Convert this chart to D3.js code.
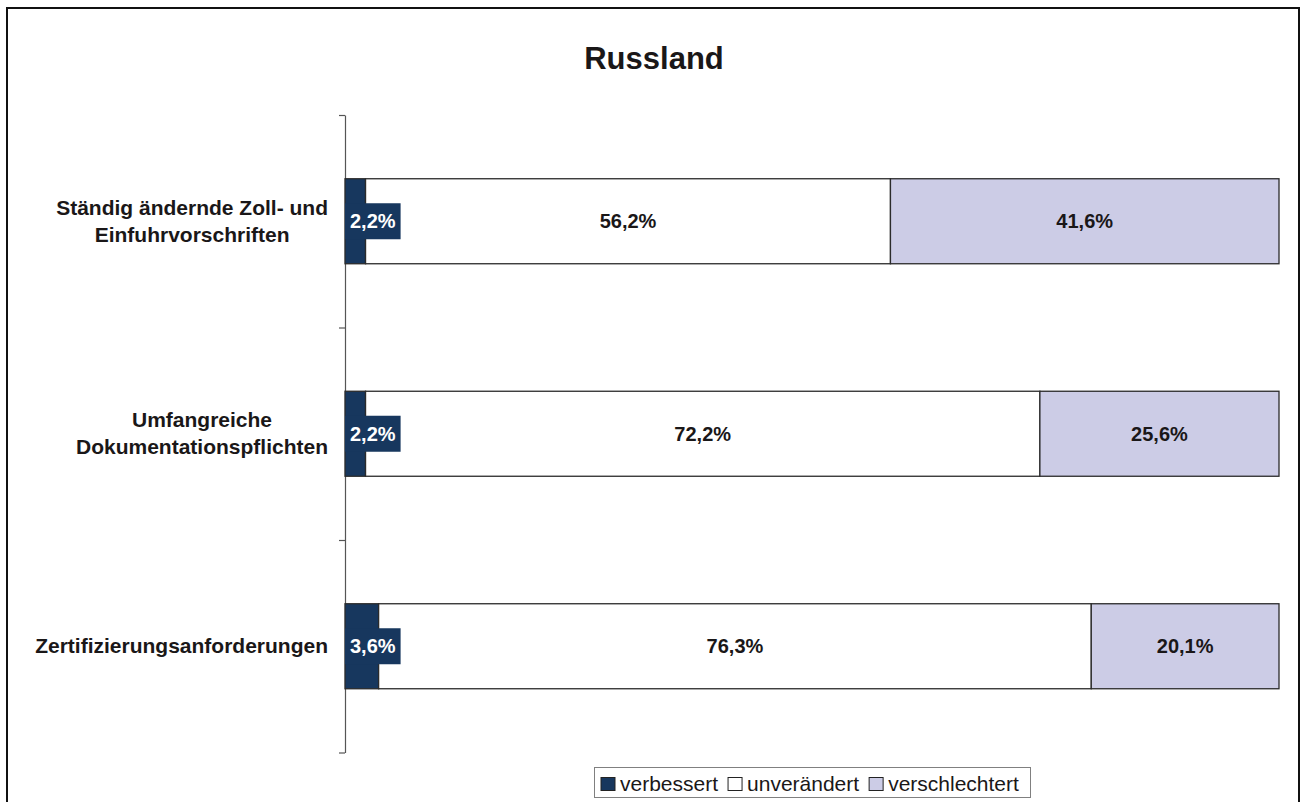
<!DOCTYPE html>
<html>
<head>
<meta charset="utf-8">
<script src="https://cdn.jsdelivr.net/npm/d3@7"></script>
<style>
  body { margin: 0; background: #fff; }
  svg { display: block; font-family: "Liberation Sans", Arial, sans-serif; }
</style>
</head>
<body>
<svg id="chart" width="1304" height="802"></svg>
<script>
// DATA
const categories = [
    ['Ständig ändernde Zoll- und', 'Einfuhrvorschriften'],
    ['Umfangreiche', 'Dokumentationspflichten'],
    ['Zertifizierungsanforderungen']
]
const seriesNames = ['verbessert', 'unverändert', 'verschlechtert']
const verbessert = [2.2, 2.2, 3.6]
const unveraendert = [56.2, 72.2, 76.3]
const verschlechtert = [41.6, 25.6, 20.1]
const colors = ['#17375e', '#ffffff', '#ccccE6']

const rows = categories.map((c, i) => ({
    key: i,
    label: c,
    values: [verbessert[i], unveraendert[i], verschlechtert[i]]
}))

// SVG, SCALES
const svg = d3.select('#chart')
const plot = { left: 345, right: 1279, top: 115, bottom: 752.5 }

// outer frame (bottom edge runs off the picture)
svg.append('rect')
    .attr('x', 7).attr('y', 8)
    .attr('width', 1292).attr('height', 820)
    .attr('fill', 'none')
    .attr('stroke', '#111')
    .attr('stroke-width', 2)

svg.append('text')
    .attr('x', 654).attr('y', 69)
    .attr('text-anchor', 'middle')
    .attr('font-size', 31).attr('font-weight', 'bold')
    .attr('fill', '#1a1718')
    .text('Russland')

const x = d3.scaleLinear().domain([0, 100]).range([plot.left, plot.right])
const y = d3.scaleBand()
    .domain(rows.map(d => d.key))
    .range([plot.top, plot.bottom])
    .paddingInner(0.6)
    .paddingOuter(0.3)

// axis with ticks at category boundaries
const yEdges = d3.scaleLinear().domain([0, rows.length]).range([plot.top, plot.bottom])
svg.append('g')
    .attr('transform', `translate(${plot.left},0)`)
    .call(d3.axisLeft(yEdges).tickValues(d3.range(rows.length + 1)).tickFormat('').tickSize(6).tickSizeOuter(0))
    .call(g => g.selectAll('path, line').attr('stroke', '#555').attr('stroke-width', 1.2))

// stacked segments
const stacked = rows.map(r => {
    let acc = 0
    return r.values.map((v, j) => {
        const seg = { row: r.key, j: j, v: v, x0: acc, x1: acc + v }
        acc += v
        return seg
    })
}).flat()

svg.append('g').selectAll('rect')
    .data(stacked)
    .join('rect')
    .attr('x', d => x(d.x0))
    .attr('y', d => y(d.row))
    .attr('width', d => x(d.x1) - x(d.x0))
    .attr('height', y.bandwidth())
    .attr('fill', d => colors[d.j])
    .attr('stroke', '#2b2b2b')
    .attr('stroke-width', 1.3)

// value labels
const fmt = v => v.toFixed(1).replace('.', ',') + '%'
const labels = svg.append('g')
stacked.forEach(d => {
    const cy = y(d.row) + y.bandwidth() / 2
    const g = labels.append('g')
    const t = g.append('text')
        .attr('y', cy + 7)
        .attr('text-anchor', 'middle')
        .attr('font-size', 20).attr('font-weight', 'bold')
        .attr('fill', d.j === 0 ? '#fff' : '#1a1718')
        .text(fmt(d.v))
    const w = t.node().getComputedTextLength()
    let cx = (x(d.x0) + x(d.x1)) / 2
    if (d.j === 0) {
        // small segment: label gets a filled box, kept right of the axis
        const bw = w + 10
        cx = Math.max(cx, x(0) + bw / 2)
        g.insert('rect', 'text')
            .attr('x', cx - bw / 2).attr('y', cy - 18)
            .attr('width', bw).attr('height', 36)
            .attr('fill', colors[0])
    }
    t.attr('x', cx)
})

// category labels: right aligned block, lines centred within it
rows.forEach(r => {
    const cy = y(r.key) + y.bandwidth() / 2
    const lh = 27
    const t = svg.append('text')
        .attr('font-size', 21).attr('font-weight', 'bold')
        .attr('fill', '#1a1718')
        .attr('text-anchor', 'middle')
    const spans = r.label.map((line, i) => t.append('tspan').text(line))
    const maxW = d3.max(spans, s => s.node().getComputedTextLength())
    const cx = 328 - maxW / 2
    const y0 = cy - (r.label.length - 1) * lh / 2 + 7
    spans.forEach((s, i) => s.attr('x', cx).attr('y', y0 + i * lh))
})

// legend
const legend = svg.append('g')
legend.append('rect')
    .attr('x', 594.5).attr('y', 767.5)
    .attr('width', 436).attr('height', 30)
    .attr('fill', '#fff')
    .attr('stroke', '#808080')
let lx = 601
seriesNames.forEach((name, i) => {
    legend.append('rect')
        .attr('x', lx).attr('y', 777.5)
        .attr('width', 14).attr('height', 13)
        .attr('fill', colors[i])
        .attr('stroke', '#222').attr('stroke-width', 1)
    const t = legend.append('text')
        .attr('x', lx + 19).attr('y', 790.5)
        .attr('font-size', 21)
        .attr('fill', '#1a1718')
        .text(name)
    lx += 19 + t.node().getComputedTextLength() + 10
})
</script>
</body>
</html>
